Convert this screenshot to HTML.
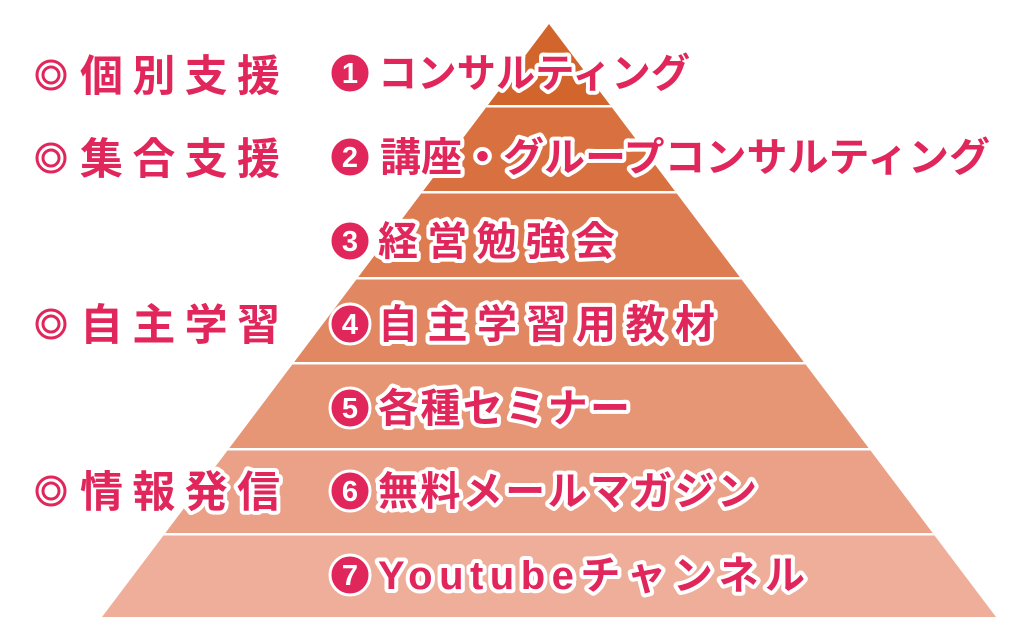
<!DOCTYPE html>
<html><head><meta charset="utf-8"><style>
html,body{margin:0;padding:0;background:#fff;}
svg{display:block;}
text{font-family:"Liberation Sans","Noto Sans CJK JP",sans-serif;font-weight:bold;}
.it{fill:#e0265a;stroke:#fff;stroke-width:8px;paint-order:stroke;stroke-linejoin:round;font-size:40px;}
.lb{fill:#e0265a;stroke:#fff;stroke-width:8px;paint-order:stroke;stroke-linejoin:round;font-size:43px;}
.n{fill:#fff;font-size:29px;text-anchor:middle;}
</style></head><body>
<svg width="1024" height="643" viewBox="0 0 1024 643" xmlns="http://www.w3.org/2000/svg">
<defs><clipPath id="tri"><polygon points="549,24 996,617 102,617"/></clipPath></defs>
<g clip-path="url(#tri)">
<rect x="0" y="0" width="1024" height="106" fill="#d2652c"/>
<rect x="0" y="106" width="1024" height="86" fill="#d8703f"/>
<rect x="0" y="192" width="1024" height="86" fill="#dd7c51"/>
<rect x="0" y="278" width="1024" height="85" fill="#e18862"/>
<rect x="0" y="363" width="1024" height="86" fill="#e69575"/>
<rect x="0" y="449" width="1024" height="85" fill="#eaa187"/>
<rect x="0" y="534" width="1024" height="83" fill="#eeae99"/>
<g fill="#fff">
<rect x="0" y="105" width="1024" height="2.5"/>
<rect x="0" y="191" width="1024" height="2.5"/>
<rect x="0" y="277" width="1024" height="2.5"/>
<rect x="0" y="362" width="1024" height="2.5"/>
<rect x="0" y="448" width="1024" height="2.5"/>
<rect x="0" y="533" width="1024" height="2.5"/>
</g>
</g>

<g>
<g fill="none" stroke="#e0265a" stroke-width="3">
<circle cx="51" cy="75" r="14"/><circle cx="51" cy="75" r="8"/>
<circle cx="51" cy="158" r="14"/><circle cx="51" cy="158" r="8"/>
<circle cx="51" cy="324" r="14"/><circle cx="51" cy="324" r="8"/>
<circle cx="51" cy="491" r="14"/><circle cx="51" cy="491" r="8"/>
</g>
<text class="lb" x="80" y="91" textLength="200" lengthAdjust="spacing">個別支援</text>
<text class="lb" x="80" y="174" textLength="200" lengthAdjust="spacing">集合支援</text>
<text class="lb" x="80" y="340" textLength="200" lengthAdjust="spacing">自主学習</text>
<text class="lb" x="80" y="507" textLength="200" lengthAdjust="spacing">情報発信</text>
</g>

<g>
<g fill="#e0265a" stroke="#fff" stroke-width="3">
<circle cx="350" cy="73" r="20"/>
<circle cx="350" cy="157" r="20"/>
<circle cx="350" cy="241" r="20"/>
<circle cx="350" cy="324" r="20"/>
<circle cx="350" cy="408" r="20"/>
<circle cx="350" cy="491" r="20"/>
<circle cx="350" cy="575" r="20"/>
</g>
<text class="n" x="350" y="83">1</text>
<text class="n" x="350" y="167">2</text>
<text class="n" x="350" y="251">3</text>
<text class="n" x="350" y="334">4</text>
<text class="n" x="350" y="418">5</text>
<text class="n" x="350" y="501">6</text>
<text class="n" x="350" y="585">7</text>
<text class="it" x="378" y="87" textLength="312" lengthAdjust="spacingAndGlyphs">コンサルティング</text>
<text class="it" x="380" y="171" textLength="610" lengthAdjust="spacingAndGlyphs">講座・グループコンサルティング</text>
<text class="it" x="378" y="255" textLength="237" lengthAdjust="spacing">経営勉強会</text>
<text class="it" x="378" y="338" textLength="337" lengthAdjust="spacing">自主学習用教材</text>
<text class="it" x="378" y="422" textLength="252" lengthAdjust="spacing">各種セミナー</text>
<text class="it" x="378" y="505" textLength="379" lengthAdjust="spacing">無料メールマガジン</text>
<text class="it" x="378" y="589" textLength="427" lengthAdjust="spacing">Youtubeチャンネル</text>
</g>
</svg>
</body></html>
